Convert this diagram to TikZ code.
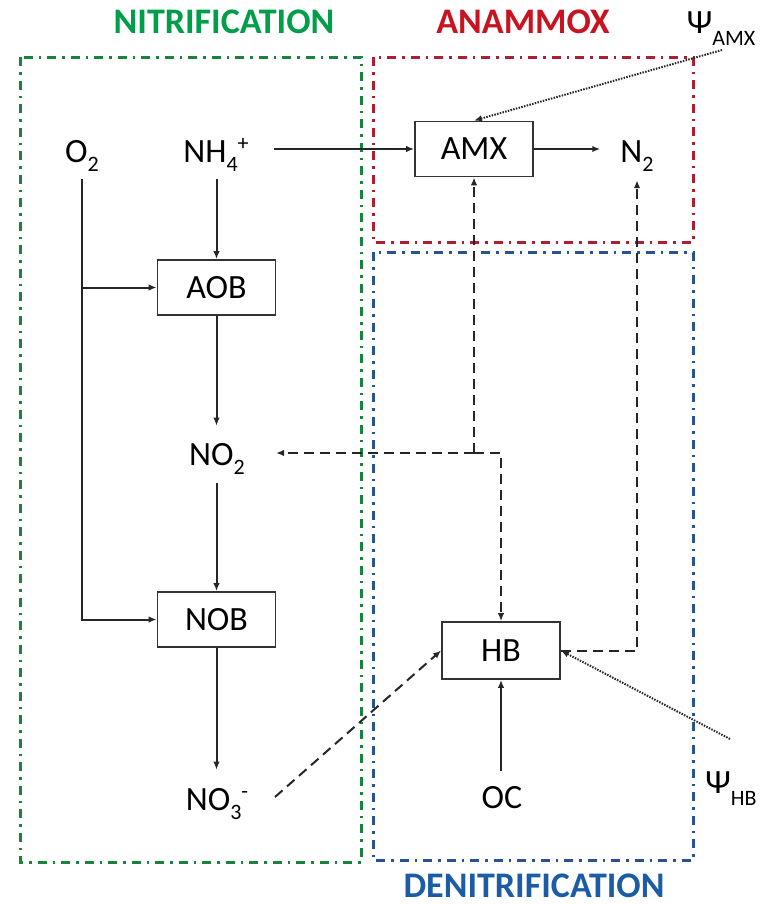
\documentclass[tikz,border=0pt]{standalone}
\usepackage{fontspec}
\setmainfont{Carlito}
\usetikzlibrary{arrows.meta}
\definecolor{grnT}{RGB}{0,158,72}
\definecolor{grnB}{RGB}{25,130,60}
\definecolor{redT}{RGB}{200,20,32}
\definecolor{redB}{RGB}{175,30,48}
\definecolor{bluT}{RGB}{28,92,165}
\definecolor{bluB}{RGB}{40,82,145}
\newcommand\lo[1]{\raisebox{-9pt}{\fontsize{22}{22}\selectfont #1}}
\newcommand\hi[1]{\raisebox{12pt}{\fontsize{22}{22}\selectfont #1}}
\newcommand\psisub[1]{\raisebox{-12pt}{\fontsize{22}{22}\selectfont #1}}
\begin{document}
\begin{tikzpicture}[x=1pt,y=-1pt,
  txt/.style={anchor=base, inner sep=0pt, font=\fontsize{34}{40}\selectfont},
  ttl/.style={anchor=base, inner sep=0pt, font=\fontsize{36}{40}\selectfont\bfseries},
  boxn/.style={draw=black!80, line width=1.8pt, minimum width=118pt, minimum height=55pt, inner sep=0pt, font=\fontsize{34}{40}\selectfont},
  arr/.style={draw=black!85, line width=2pt, -{Latex[length=8pt,width=6.5pt]}},
  darr/.style={arr, dash pattern=on 10pt off 6pt},
  dotarr/.style={arr, line width=2pt, dash pattern=on 1.5pt off 1.3pt},
  region/.style={line width=3pt, dash pattern=on 9pt off 6pt on 2.5pt off 6pt}]
\useasboundingbox (0,0) rectangle (764,905);

% regions
\draw[region, grnB] (20,57) rectangle (361,862);
\draw[region, redB] (373,57) rectangle (693,242);
\draw[region, bluB] (373,252) rectangle (693,860);

% titles
\node[ttl, text=grnT] (tN) at (224,33) {NITRIFICATION};
\node[ttl, text=redT] (tA) at (523,33) {ANAMMOX};
\node[ttl, text=bluT] (tD) at (534,897) {DENITRIFICATION};

% species
\node[txt] (O2) at (82,162) {O\lo{2}};
\node[txt] (NH4) at (216,162) {NH\lo{4}\hi{+}};
\node[txt] (N2) at (637,162) {N\lo{2}};
\node[txt] (NO2) at (217,465) {NO\lo{2}};
\node[txt] (NO3) at (217,810) {NO\lo{3}\hi{-}};
\node[txt] (OC) at (502,808) {OC};
\node[txt] (psiA) at (721,33) {Ψ\psisub{AMX}};
\node[txt] (psiH) at (731,793) {Ψ\psisub{HB}};

% boxes
\node[boxn] (AMX) at (474,149) {AMX};
\node[boxn] (AOB) at (216.5,287.5) {AOB};
\node[boxn] (NOB) at (216.5,619.5) {NOB};
\node[boxn, minimum height=57pt] (HB) at (501,650.5) {HB};

% free ends
\coordinate (psiAend) at (722,50);
\coordinate (psiHend) at (730,739);
\coordinate (no3out) at (275,797);
\coordinate (J) at (474,453);

% solid arrows
\draw[arr, shorten <=25pt] (NH4.east |- AMX.west) -- (AMX.west);
\draw[arr, shorten >=20pt] (AMX.east) -- (AMX.east -| N2.west);
\draw[arr, shorten <=8pt] (NH4.south -| AOB.north) -- (AOB.north);
\draw[arr, shorten <=8pt] (O2.south) |- (NOB.west);
\draw[arr] (O2.south |- AOB.west) -- (AOB.west);
\draw[arr, shorten >=17pt] (AOB.south) -- (AOB.south |- NO2.north);
\draw[arr, shorten <=9pt] (NO2.south -| NOB.north) -- (NOB.north);
\draw[arr, shorten >=18pt] (NOB.south) -- (NOB.south |- NO3.north);
\draw[arr, shorten <=15pt] (OC.north -| HB.south) -- (HB.south);

% dashed arrows
\draw[darr] (no3out) -- (HB.west);
\draw[darr, shorten >=31pt] (J) -- (J -| NO2.east);
\draw[darr] (J) -- (AMX.south);
\draw[darr] (J) -- (J -| HB.north) -- (HB.north);
\draw[darr, shorten >=9pt] (HB.east) -| (N2.south);

% dotted arrows
\draw[dotarr] (psiAend) -- (AMX.north);
\draw[dotarr] (psiHend) -- (HB.east);
\end{tikzpicture}
\end{document}
